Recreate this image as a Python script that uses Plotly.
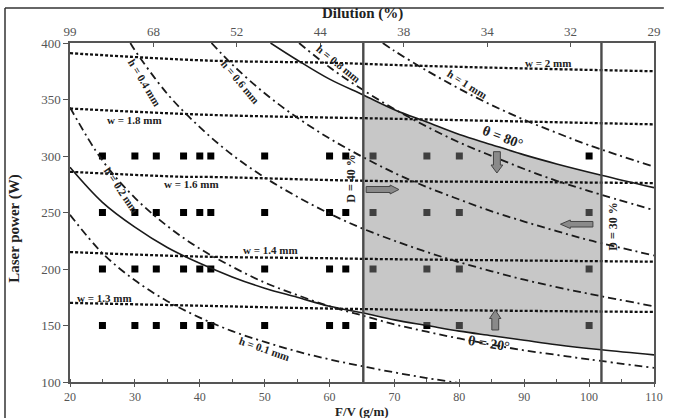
import plotly.graph_objects as go

# ---------------- data ----------------
fv_levels = [25, 30, 33.3, 37.5, 40, 41.7, 50, 60, 62.5, 66.7, 75, 80, 100]
power_levels = [150, 200, 250, 300]

dilution_labels = ["99", "68", "52", "44", "38", "34", "32", "29"]

# clad width (dotted)
w20_x = [20, 41, 60, 73, 90, 110]
w20_y = [391, 384.5, 382.5, 380, 377.5, 375]
w18_x = [20, 41, 60, 65, 90, 110]
w18_y = [342, 336.5, 334, 333.5, 330.5, 328]
w16_x = [20, 38, 41, 66, 90, 110]
w16_y = [286, 281.5, 281.5, 278, 277, 276]
w14_x = [20, 40, 60, 65, 90, 110]
w14_y = [215, 211, 209.5, 209, 207.5, 206.5]
w13_x = [20, 40, 60, 80, 110]
w13_y = [170, 167.5, 165, 163.5, 162]

# clad height (dash-dot)
h01_x = [20, 25, 30, 35, 40, 45, 50, 55, 60, 65, 70, 75, 80]
h01_y = [248, 214, 190, 171.5, 157, 145, 135.5, 127, 120, 114, 108.5, 103.5, 99]
h02_x = [20, 25, 30, 35, 40, 45, 50, 55, 60, 65, 70, 75, 80, 85, 90, 95, 100, 110]
h02_y = [343, 296, 263, 238, 218, 202, 188, 177, 167, 159, 151, 144.5, 138.5, 133, 128, 124, 120, 112.5]
h04_x = [29.3, 30, 35, 40, 45, 50, 55, 60, 65, 70, 75, 80, 85, 90, 95, 100, 110]
h04_y = [400, 393.5, 355, 325.5, 301, 281, 264, 249, 236, 225, 215, 206, 198, 190.5, 184, 178, 167]
h06_x = [41.8, 45, 50, 55, 60, 65, 70, 75, 80, 85, 90, 95, 100, 110]
h06_y = [400, 381, 355.5, 334, 315.5, 299.5, 285, 272.5, 261.5, 251, 242, 233.5, 225.5, 212]
h08_x = [55.3, 60, 65, 70, 75, 80, 85, 90, 95, 100, 110]
h08_y = [400, 378.5, 359, 341.5, 326, 312, 300, 288.5, 278, 269, 252]
h10_x = [68.2, 70, 75, 80, 85, 90, 95, 100, 110]
h10_y = [400, 393, 375.5, 359.5, 345, 332, 320.5, 309.5, 290.5]

# contact angle limits (solid)
t80_x = [50.9, 55, 60, 65.2, 70, 75, 80, 85, 90, 95, 101.9, 110]
t80_y = [400, 385, 368, 354, 341, 330, 319, 310, 301, 293, 283, 272]
t20_x = [20, 25, 30, 35, 40, 45, 50, 55, 60, 65.2, 70, 75, 80, 85, 90, 95, 101.9, 110]
t20_y = [290, 259, 237, 219, 205, 193, 183, 175, 167, 161, 155, 150, 145, 141, 137, 133, 128.5, 124]

# dilution limits (vertical)
d40_x = 65.2
d30_x = 101.9

# process window (shaded)
shade_x = [65.2, 70, 75, 80, 85, 90, 95, 101.9]
shade_top = [354, 341, 330, 319, 310, 301, 293, 283]
shade_bot = [161, 155, 150, 145, 141, 137, 133, 128.5]

# ---------------- layout helpers ----------------
W, H = 673, 418
ML, MR, MT, MB = 70, 10, 43, 36
PW, PH = W - ML - MR, H - MT - MB
SERIF = "Liberation Serif, Times New Roman, serif"


def pp(px, py):
    return (px - ML) / PW, (H - MB - py) / PH


fig = go.Figure()

# experimental points
mx = [f for p in power_levels for f in fv_levels]
my = [p for p in power_levels for f in fv_levels]
fig.add_trace(go.Scatter(x=mx, y=my, mode="markers",
                         marker=dict(symbol="square", size=7, color="#000"),
                         showlegend=False, hoverinfo="skip"))

# shaded window (drawn over markers so those inside look grey)
fig.add_trace(go.Scatter(x=shade_x + shade_x[::-1], y=shade_bot + shade_top[::-1],
                         mode="lines", fill="toself", line=dict(width=0),
                         fillcolor="rgba(137,137,137,0.47)",
                         showlegend=False, hoverinfo="skip"))

dot = dict(color="#111", width=2.3, dash="3px,2px")
for xs, ys in [(w20_x, w20_y), (w18_x, w18_y), (w16_x, w16_y), (w14_x, w14_y), (w13_x, w13_y)]:
    fig.add_trace(go.Scatter(x=xs, y=ys, mode="lines", line=dict(shape="spline", **dot),
                             showlegend=False, hoverinfo="skip"))

dd = dict(color="#1a1a1a", width=1.8, dash="8px,4px,2px,4px")
for xs, ys in [(h01_x, h01_y), (h02_x, h02_y), (h04_x, h04_y), (h06_x, h06_y), (h08_x, h08_y), (h10_x, h10_y)]:
    fig.add_trace(go.Scatter(x=xs, y=ys, mode="lines", line=dict(shape="spline", **dd),
                             showlegend=False, hoverinfo="skip"))

for xs, ys in [(t80_x, t80_y), (t20_x, t20_y)]:
    fig.add_trace(go.Scatter(x=xs, y=ys, mode="lines",
                             line=dict(shape="spline", color="#1a1a1a", width=1.6),
                             showlegend=False, hoverinfo="skip"))

for xv in [d40_x, d30_x]:
    fig.add_trace(go.Scatter(x=[xv, xv], y=[100, 400], mode="lines",
                             line=dict(color="#4a4a4a", width=2.4),
                             showlegend=False, hoverinfo="skip"))

# invisible trace for top axis
fig.add_trace(go.Scatter(x=[0, 7], y=[100, 100], xaxis="x2", mode="markers",
                         marker=dict(opacity=0), showlegend=False, hoverinfo="skip"))

tickfont = dict(family=SERIF, size=13, color="#555")
fig.update_layout(
    width=W, height=H, margin=dict(l=ML, r=MR, t=MT, b=MB),
    paper_bgcolor="white", plot_bgcolor="white",
    xaxis=dict(range=[20, 110], dtick=10, tick0=20, showgrid=False, zeroline=False,
               showline=True, linecolor="#555", linewidth=1.5,
               ticks="outside", ticklen=3, tickcolor="#555",
               tickfont=dict(family=SERIF, size=12, color="#555"),
               minor=dict(dtick=5, ticks="inside", ticklen=3, tickcolor="#555")),
    xaxis2=dict(range=[0, 7], overlaying="x", side="top", anchor="y",
                tickvals=list(range(len(dilution_labels))), ticktext=dilution_labels,
                showgrid=False, zeroline=False, showline=True, linecolor="#555", linewidth=1.5,
                ticks="inside", ticklen=4, tickcolor="#555", tickfont=tickfont),
    yaxis=dict(range=[100, 400], dtick=50, showgrid=False, zeroline=False,
               showline=True, linecolor="#555", linewidth=1.5, mirror=True,
               ticks="outside", ticklen=5, tickcolor="#555", tickfont=tickfont),
)

anns = []


def ann(px, py, text, angle=0, size=11, bold=True, color="#222"):
    x, y = pp(px, py)
    t = f"<b>{text}</b>" if bold else text
    anns.append(dict(x=x, y=y, xref="paper", yref="paper", text=t, showarrow=False,
                     textangle=angle, xanchor="center", yanchor="middle",
                     font=dict(family=SERIF, size=size, color=color)))


# axis titles
ann(366, 411, "F/V (g/m)", size=13, color="#222")
ann(367, 13, "Dilution (%)", size=15, color="#222")
ann(13, 228, "Laser power (W)", angle=-90, size=15, color="#222")

# curve labels
ann(555, 63, "w = 2 mm", size=11)
ann(136, 120, "w = 1.8 mm", size=11)
ann(193, 184, "w = 1.6 mm", size=11)
ann(274, 250, "w = 1.4 mm", size=11)
ann(105, 298, "w = 1.3 mm", size=11)
ann(268, 349, "h = 0.1 mm", angle=19, size=11)
ann(122, 190, "h = 0.2 mm", angle=56, size=11)
ann(146, 83, "h = 0.4 mm", angle=59, size=11)
ann(243, 82, "h = 0.6 mm", angle=50, size=11)
ann(343, 64, "h = 0.8 mm", angle=39, size=11)
ann(473, 84, "h = 1 mm", angle=32, size=11)
ann(510, 137, "θ = 80°", angle=21, size=14)
ann(495, 343, "θ = 20°", angle=9, size=14)
ann(355, 178, "D = 40 %", angle=-90, size=12)
ann(621, 226, "D = 30 %", angle=-90, size=12)

fig.update_layout(annotations=anns)

# block arrows and outer frame
arrows = [
    [(370.7, 186.5), (395, 186.5), (395, 185), (404, 189.5), (395, 194), (395, 192.5), (370.7, 192.5)],
    [(500, 151.7), (507, 151.7), (507, 165), (509.5, 165), (503.5, 173), (497.5, 165), (500, 165)],
    [(601, 221.5), (578, 221.5), (578, 220), (568, 224.2), (578, 228.5), (578, 227), (601, 227)],
    [(498.3, 330), (505.3, 330), (505.3, 318.5), (507.5, 318.5), (501.8, 310), (496, 318.5), (498.3, 318.5)],
]
shapes = []
for pts in arrows:
    path = "M " + " L ".join(f"{pp(a, b)[0]:.4f},{pp(a, b)[1]:.4f}" for a, b in pts) + " Z"
    shapes.append(dict(type="path", path=path, xref="paper", yref="paper",
                       fillcolor="#8a8a8a", line=dict(color="#444", width=1)))

x0, y0 = pp(4, 8)
x1, y1 = pp(673, 418)
shapes.append(dict(type="line", xref="paper", yref="paper", x0=x0, y0=y0, x1=x1, y1=y0,
                   line=dict(color="#333", width=1.5)))
shapes.append(dict(type="line", xref="paper", yref="paper", x0=x0, y0=y0, x1=x0, y1=y1,
                   line=dict(color="#333", width=1.5)))
fig.update_layout(shapes=shapes)

fig.write_html("out.html")
